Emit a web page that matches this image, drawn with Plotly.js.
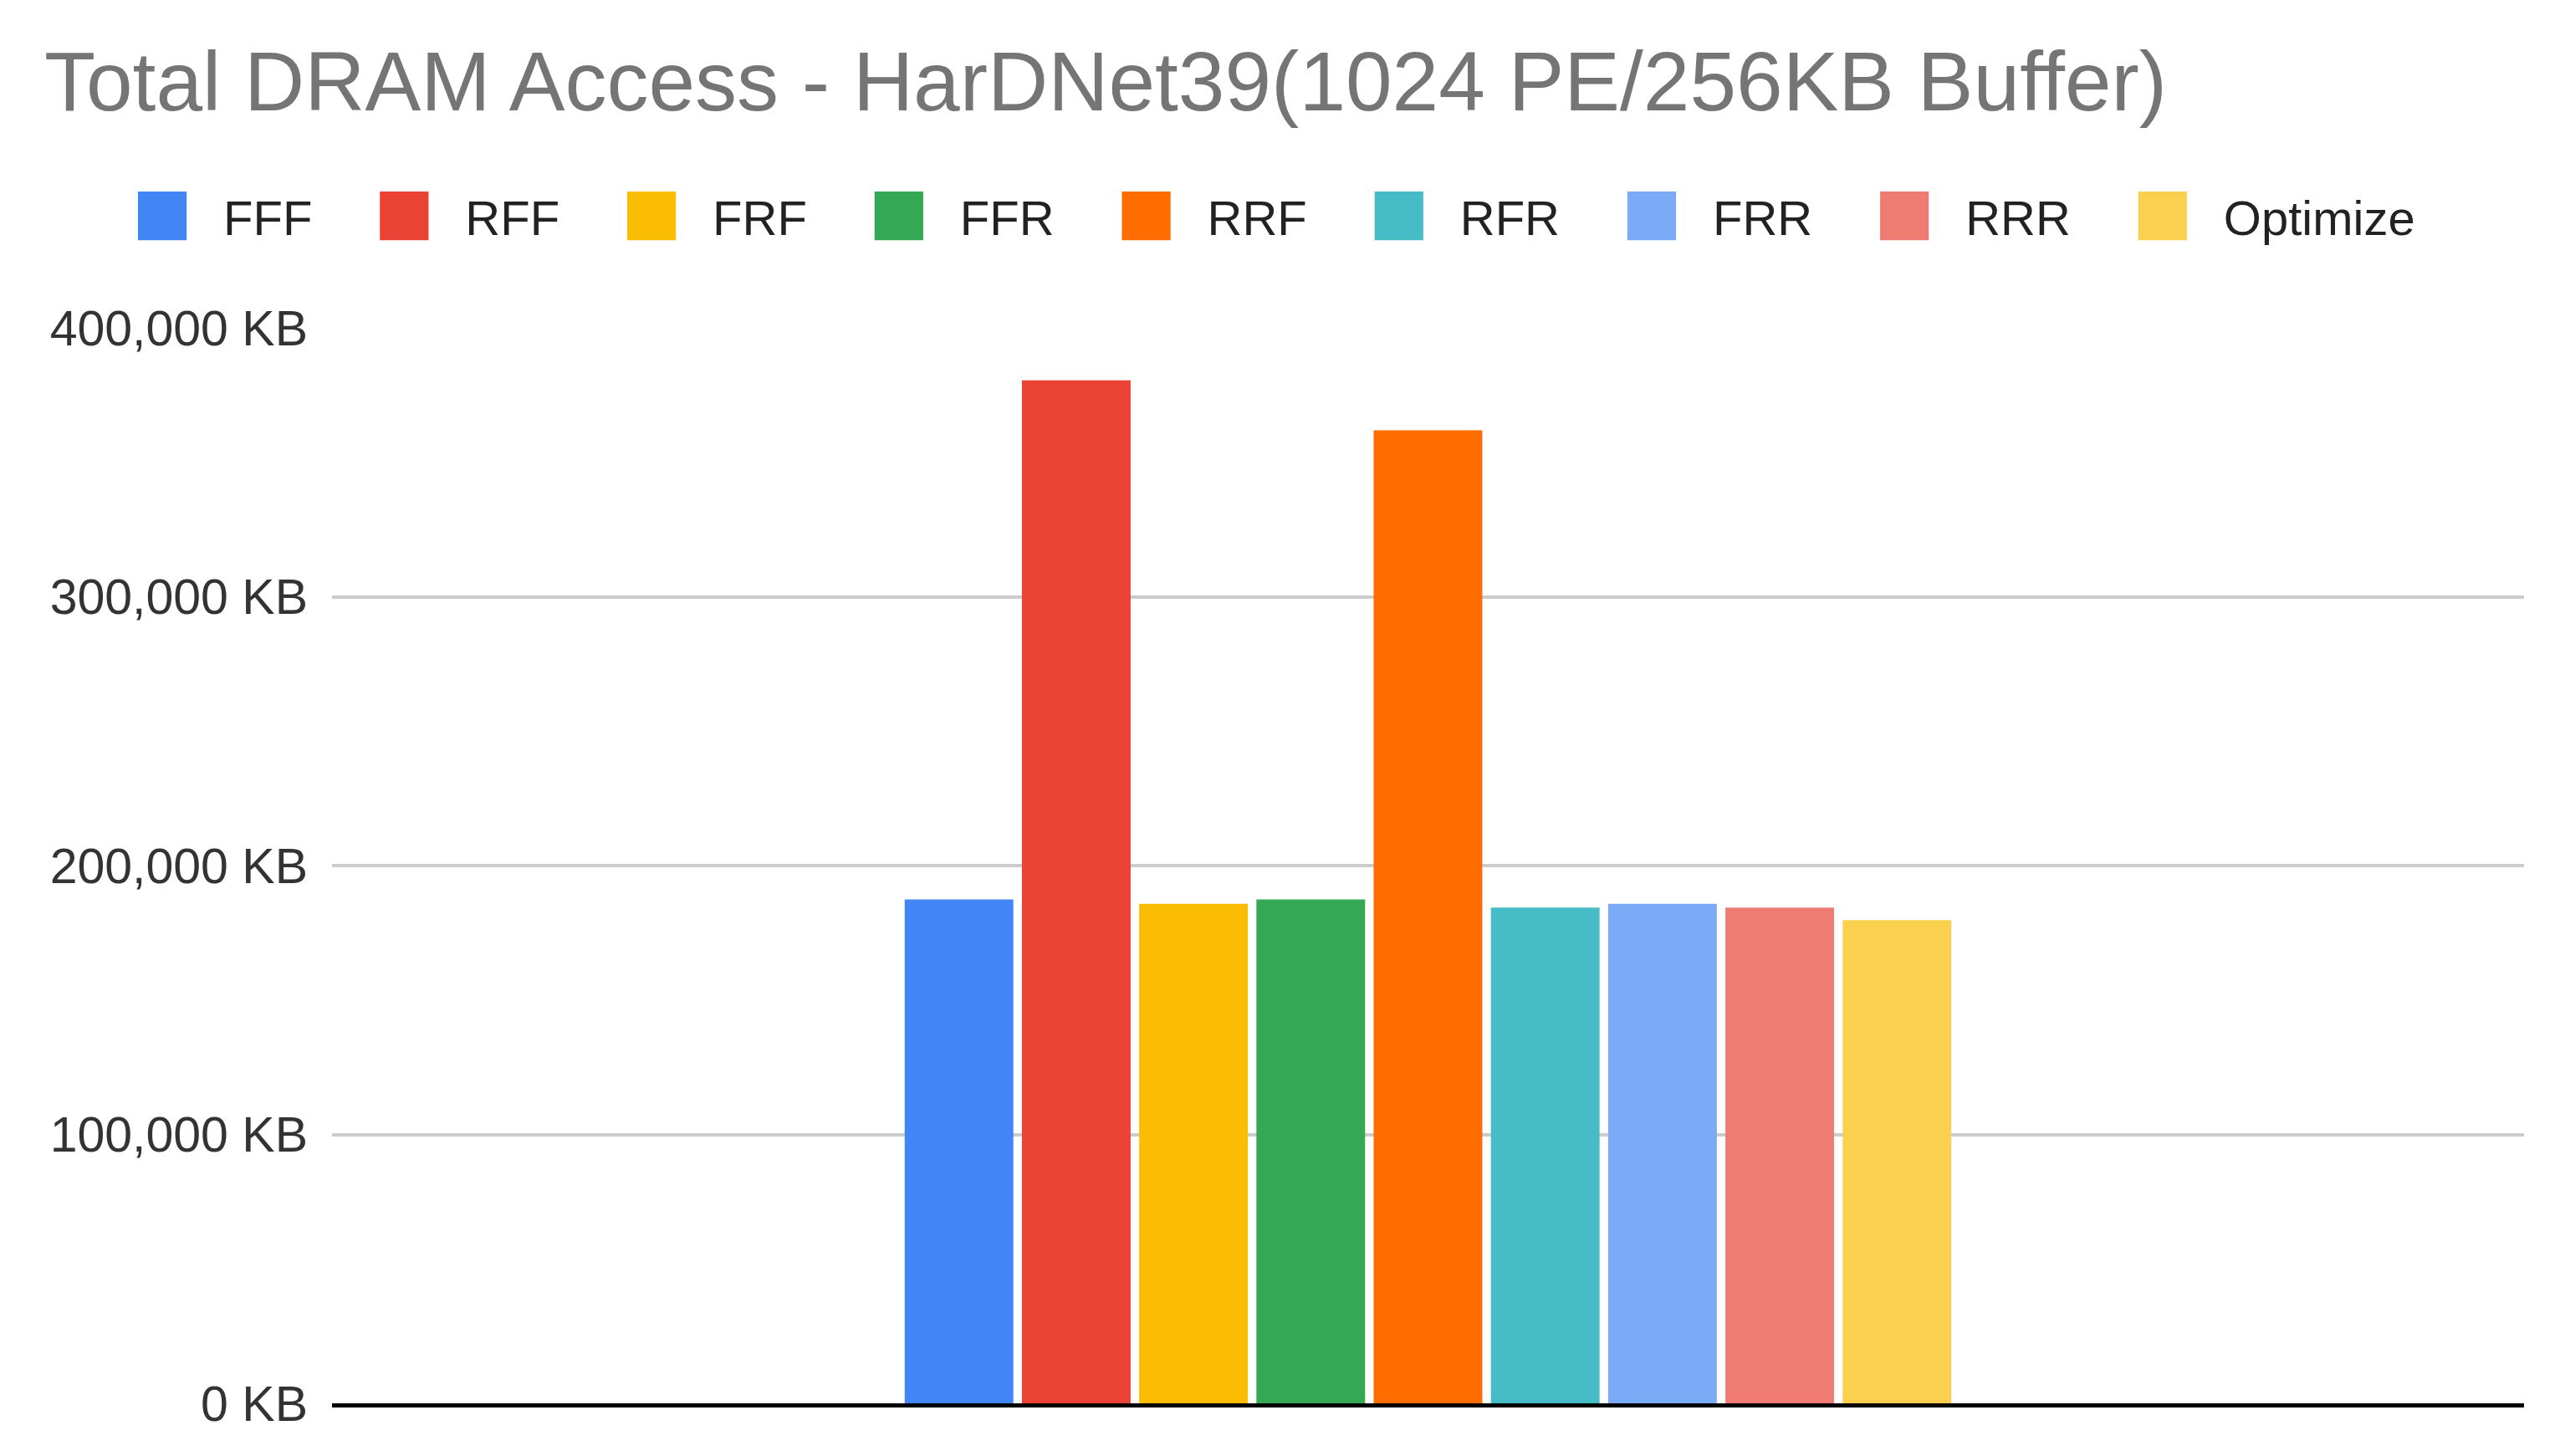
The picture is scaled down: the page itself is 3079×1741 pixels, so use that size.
<!DOCTYPE html>
<html>
<head>
<meta charset="utf-8">
<script src="https://cdn.plot.ly/plotly-3.0.1.min.js"></script>
<style>
  html, body { margin: 0; padding: 0; background: #fff; }
  #chart { width: 3079px; height: 1741px; }
  /* Sheets draws big square swatches; Plotly's bar symbol is a fixed 12px square. */
  #chart .legend .legendpoints path {
    transform: translate(105px, 0px) scale(4.85) !important;
  }
</style>
</head>
<body>
<div id="chart"></div>
<script>
// Total DRAM access per dataflow config.
const CATEGORY = ['HarDNet39'];
const CONFIGS = ['FFF', 'RFF', 'FRF', 'FFR', 'RRF', 'RFR', 'FRR', 'RRR', 'Optimize'];
const DRAM_KB = [187400, 380500, 185800, 187400, 361900, 184400, 185800, 184400, 179700];
const COLORS = ['#4285F4', '#EA4335', '#FBBC04', '#34A853', '#FF6D01',
                '#46BDC6', '#7BAAF7', '#F07B72', '#FCD04F'];

const FONT = 'Liberation Sans, Arial, sans-serif';

const traces = CONFIGS.map((name, i) => ({
  type: 'bar',
  name: name,
  x: CATEGORY,
  y: [DRAM_KB[i]],
  marker: { color: COLORS[i], line: { width: 0 } },
  hoverinfo: 'skip',
}));

const layout = {
  width: 3079, height: 1741,
  paper_bgcolor: '#ffffff', plot_bgcolor: '#ffffff',
  font: { family: FONT, color: '#333333', size: 58 },
  margin: { t: 392, r: 61, b: 63, l: 397, pad: 0 },
  title: {
    text: 'Total DRAM Access - HarDNet39(1024 PE/256KB Buffer)',
    font: { family: FONT, size: 100, color: '#757575' },
    xref: 'container', yref: 'container',
    x: 53 / 3079, xanchor: 'left',
    y: 1 - 62 / 1741, yanchor: 'top',
  },
  barmode: 'group',
  bargap: 0.5186,
  bargroupgap: 0.073,
  showlegend: true,
  legend: {
    orientation: 'h',
    xref: 'paper', yref: 'paper',
    x: -0.1175, xanchor: 'left',
    y: 1.1038, yanchor: 'middle',
    font: { family: FONT, size: 58, color: '#222222' },
    itemwidth: 168,
    bgcolor: 'rgba(0,0,0,0)',
    traceorder: 'normal',
  },
  xaxis: {
    type: 'category',
    range: [-0.5, 0.5],
    showticklabels: false,
    showgrid: false,
    zeroline: false,
    showline: true, linecolor: '#000000', linewidth: 5,
    ticks: '',
    fixedrange: true,
  },
  yaxis: {
    range: [0, 400000],
    dtick: 100000,
    tickformat: ',.0f',
    ticksuffix: ' KB',
    ticks: '',
    ticklabelstandoff: 28,
    tickfont: { family: FONT, size: 59, color: '#333333' },
    gridcolor: '#cccccc', gridwidth: 4,
    zeroline: false,
    showline: false,
    fixedrange: true,
  },
};

Plotly.newPlot('chart', traces, layout, { displayModeBar: false, staticPlot: true });
</script>
</body>
</html>
